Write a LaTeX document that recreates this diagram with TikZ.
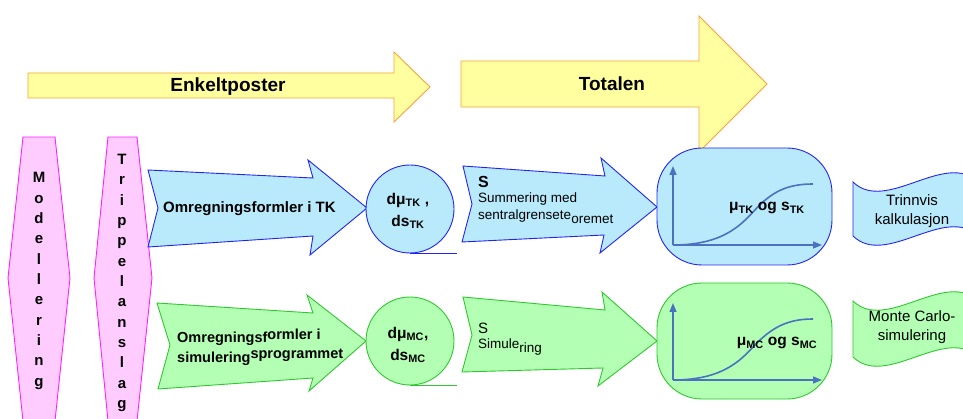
\documentclass[tikz,border=0pt]{standalone}
\usepackage{fontspec}
\setmainfont{Liberation Sans}
\usetikzlibrary{arrows.meta}

\definecolor{yelfill}{HTML}{FFFFA0}
\definecolor{yeldraw}{HTML}{F8A238}
\definecolor{magfill}{HTML}{FFCCFF}
\definecolor{magdraw}{HTML}{FF22FF}
\definecolor{bluefill}{HTML}{B8EAFC}
\definecolor{bluedraw}{HTML}{2424F0}
\definecolor{grnfill}{HTML}{B3FFB3}
\definecolor{grndraw}{HTML}{30C830}
\definecolor{curvecol}{HTML}{4A72C0}

\tikzset{
  yelshape/.style={fill=yelfill, draw=yeldraw, line width=0.9pt, line join=miter},
  magshape/.style={fill=magfill, draw=magdraw, line width=0.9pt},
  blueshape/.style={fill=bluefill, draw=bluedraw, line width=0.9pt, line join=miter},
  grnshape/.style={fill=grnfill, draw=grndraw, line width=0.9pt, line join=miter},
  txt/.style={inner sep=0pt, text=black},
  boldbig/.style={txt, font=\fontsize{19}{22}\bfseries\selectfont},
  vert/.style={txt, align=center, font=\fontsize{15}{20.35}\bfseries\selectfont},
  arrowtxt/.style={txt, anchor=west, font=\fontsize{14.5}{17}\bfseries\selectfont},
  smalltxt/.style={txt, anchor=west, font=\fontsize{13.5}{16}\selectfont},
  circtxt/.style={txt, align=center, font=\fontsize{15.5}{22}\bfseries\selectfont},
  wavetxt/.style={txt, align=center, font=\fontsize{15}{18.5}\selectfont},
  axis/.style={draw=curvecol, line width=1.4pt, -{Triangle[length=9pt,width=7pt]}},
  scurve/.style={draw=curvecol, line width=1.6pt}
}

\begin{document}
\begin{tikzpicture}[x=1pt,y=-1pt]
\useasboundingbox (0,0) rectangle (963,419);
\clip (0,0) rectangle (963,419);

% --- top: the two yellow block arrows ---
\draw[yelshape] (28,73) -- (394,73) -- (394,52) -- (430,87) -- (394,122) -- (394,98) -- (28,98) -- cycle;
\node[boldbig] (enkelt) at (228,87) {Enkeltposter};

\draw[yelshape] (461,61) -- (699,61) -- (699,16) -- (767,84) -- (699,152) -- (699,107) -- (461,107) -- cycle;
\node[boldbig] (totalen) at (612,84) {Totalen};

% --- left: two vertical hexagons ---
\draw[magshape] (23,137) -- (55,137) -- (70,278) -- (55,421) -- (23,421) -- (8,278) -- cycle;
\node[vert] (modell) at (39,281) {M\\o\\d\\e\\l\\l\\e\\r\\i\\n\\g};

\draw[magshape] (108,137) -- (137,137) -- (152,278) -- (137,421) -- (108,421) -- (94,278) -- cycle;
\node[vert] (trippel) at (122,283) {T\\r\\i\\p\\p\\e\\l\\a\\n\\s\\l\\a\\g};

% --- upper row (blue) ---
\draw[blueshape] (148,170) -- (313,178) -- (308,160) -- (367,208) -- (310,255) -- (313,236) -- (148,247) -- (158,208) -- cycle;
\node[arrowtxt, font=\fontsize{15}{17}\bfseries\selectfont] (omregTK) at (163,209) {Omregningsformler i TK};

\draw[blueshape] (410,209) circle[radius=44];
\draw[bluedraw, line width=0.9pt] (410,253) -- (457,253);
\node[circtxt] (dTK) at (408,211) {dμ\textsubscript{TK} ,\\ds\textsubscript{TK}};

\draw[blueshape] (463,166) -- (605,176) -- (601,158) -- (657,207) -- (600,253) -- (604,235) -- (462,242) -- (472,204) -- cycle;
\node[txt, anchor=west, font=\fontsize{16}{18}\bfseries\selectfont] (sTK) at (478,182) {S};
\node[smalltxt] (summ1) at (478,199) {Summering med};
\node[smalltxt] (summ2) at (478,217) {sentralgrensete\raisebox{-4pt}{oremet}};

\draw[blueshape, rounded corners=45] (657,148) rectangle (832,265);
\draw[axis] (673,245) -- (673,166);
\draw[axis] (673,245) -- (822,245);
\draw[scurve] (673,245) .. controls (722,245) and (740,226) .. (754,211)
                        .. controls (772,191) and (788,184) .. (813,184);
\node[txt, font=\fontsize{15.5}{18}\bfseries\selectfont] (resTK) at (767,208) {μ\textsubscript{TK} og s\textsubscript{TK}};

\draw[blueshape] (853,182) .. controls (886,214) and (945,150) .. (978,182)
                 -- (978,236) .. controls (945,204) and (886,268) .. (853,236) -- cycle;
\node[wavetxt] (trinn) at (912,211) {Trinnvis\\kalkulasjon};

% --- lower row (green) ---
\draw[grnshape] (157,303) -- (313,313) -- (307,295) -- (366,341) -- (309,391) -- (313,378) -- (158,389) -- (170,345) -- cycle;
\node[arrowtxt] (omreg1) at (177,337) {Omregningsf\raisebox{3pt}{ormler i}};
\node[arrowtxt] (omreg2) at (177,357) {simulering\raisebox{4pt}{sprogrammet}};

\draw[grnshape] (410,341) circle[radius=44];
\draw[grndraw, line width=0.9pt] (410,385) -- (457,385);
\node[circtxt] (dMC) at (408,345) {dμ\textsubscript{MC},\\ds\textsubscript{MC}};

\draw[grnshape] (463,297) -- (605,310) -- (602,292) -- (657,341) -- (598,386) -- (603,368) -- (462,372) -- (472,335) -- cycle;
\node[txt, anchor=west, font=\fontsize{15}{18}\selectfont] (sMC) at (478,328) {S};
\node[smalltxt] (simul) at (478,347) {Simule\raisebox{-4pt}{ring}};

\draw[grnshape, rounded corners=45] (657,283) rectangle (832,399);
\draw[axis] (673,380) -- (673,303);
\draw[axis] (673,380) -- (822,380);
\draw[scurve] (673,380) .. controls (722,380) and (740,361) .. (754,346)
                        .. controls (772,327) and (788,319) .. (813,319);
\node[txt, font=\fontsize{15.5}{18}\bfseries\selectfont] (resMC) at (777,343) {μ\textsubscript{MC} og s\textsubscript{MC}};

\draw[grnshape] (853,301) .. controls (886,333) and (945,269) .. (978,301)
                -- (978,357) .. controls (945,325) and (886,389) .. (853,357) -- cycle;
\node[wavetxt] (monte) at (912,327) {Monte Carlo-\\simulering};
\end{tikzpicture}
\end{document}
